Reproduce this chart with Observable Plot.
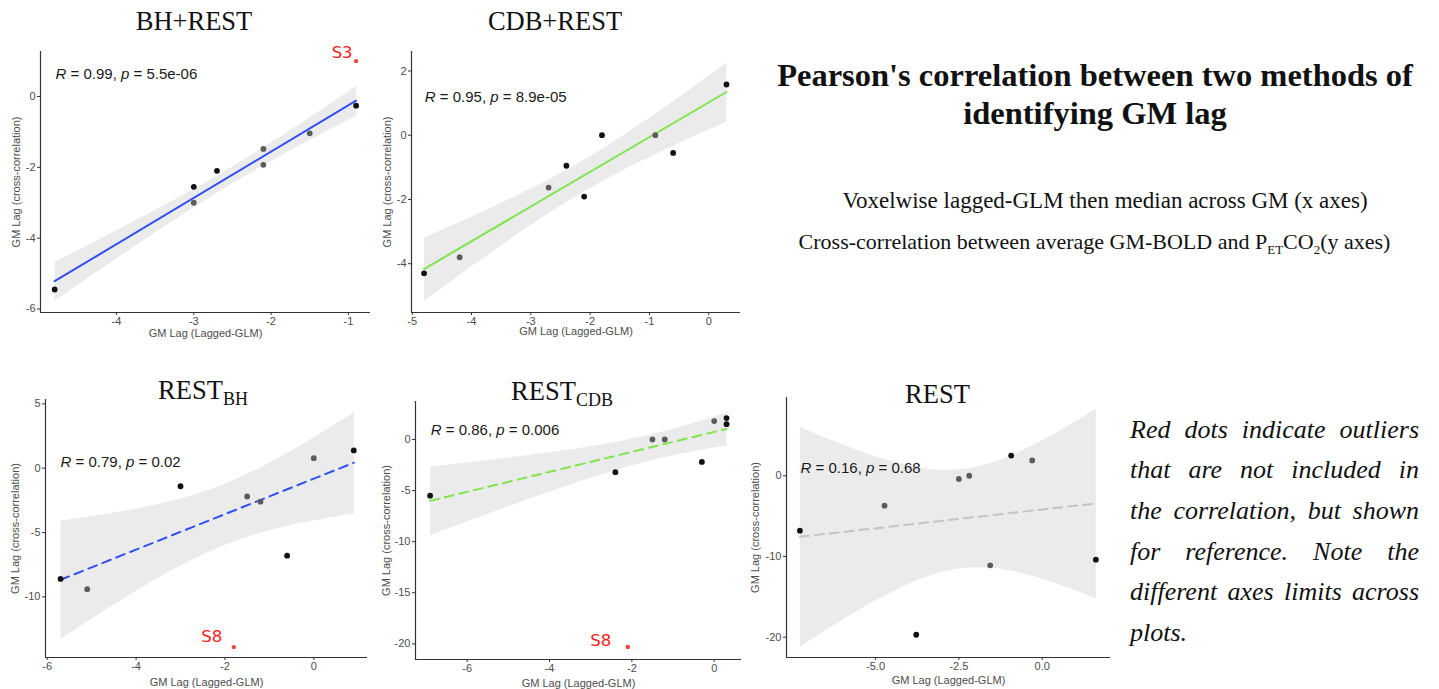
<!DOCTYPE html>
<html>
<head>
<meta charset="utf-8">
<script src="https://cdn.jsdelivr.net/npm/d3@7"></script>
<script src="https://cdn.jsdelivr.net/npm/@observablehq/plot@0.6"></script>
<style>
  html, body { margin: 0; padding: 0; background: #fff; }
  #page { position: relative; width: 1439px; height: 689px; overflow: hidden; background: #fff; }
  .panel { position: absolute; }
  #overlay { position: absolute; left: 0; top: 0; }
  #note {
    position: absolute; left: 1130px; top: 409.9px; width: 289px;
    font-family: "Liberation Serif", "Times New Roman", serif;
    font-style: italic; font-size: 26px; line-height: 40.6px; color: #111;
  }
  #note div { text-align: justify; text-align-last: justify; }
  #note div.last { text-align: left; text-align-last: left; }
</style>
</head>
<body>
<div id="page">
  <svg id="overlay" width="1439" height="689"></svg>
  <div id="note"></div>
</div>
<script>
// ---- Data: GM lag per subject, lagged-GLM (x) vs cross-correlation (y) ----
const panelTitles = ["BH+REST", "CDB+REST", "REST", "REST", "REST"];
const panelSubs   = ["", "", "BH", "CDB", ""];

const bhRestX    = [-4.8, -3.0, -3.0, -2.7, -2.1, -2.1, -1.5, -0.9];
const bhRestY    = [-5.45, -2.55, -3.0, -2.1, -1.48, -1.93, -1.04, -0.26];
const bhRestTone = ["dark", "dark", "light", "dark", "light", "light", "light", "dark"];

const cdbRestX    = [-4.8, -4.2, -2.7, -2.4, -2.1, -1.8, -0.9, -0.6, 0.3];
const cdbRestY    = [-4.3, -3.8, -1.63, -0.95, -1.91, 0.0, 0.0, -0.55, 1.58];
const cdbRestTone = ["dark", "light", "light", "dark", "dark", "dark", "light", "dark", "dark"];

const restBhX    = [-5.7, -5.1, -3.0, -1.5, -1.2, -0.6, 0.0, 0.9];
const restBhY    = [-8.6, -9.4, -1.4, -2.2, -2.6, -6.8, 0.78, 1.38];
const restBhTone = ["dark", "light", "dark", "light", "light", "dark", "light", "dark"];

const restCdbX    = [-6.9, -2.4, -1.5, -1.2, -0.3, 0.0, 0.3, 0.3];
const restCdbY    = [-5.5, -3.2, 0.0, 0.0, -2.2, 1.8, 2.1, 1.5];
const restCdbTone = ["dark", "dark", "light", "light", "dark", "light", "dark", "dark"];

const restX    = [-7.27, -4.73, -3.78, -2.5, -2.19, -1.56, -0.93, -0.3, 1.61];
const restY    = [-6.8, -3.7, -19.7, -0.4, 0.0, -11.1, 2.5, 1.9, -10.4];
const restTone = ["dark", "light", "dark", "light", "light", "light", "dark", "light", "dark"];

// excluded subjects (shown, not fitted)
const outlierNames = ["S3", null, "S8", "S8", null];
const outlierX     = [-0.9, null, -1.8, -2.1, null];
const outlierY     = [1.0, null, -13.9, -20.3, null];

// Pearson results
const rValues = ["0.99", "0.95", "0.79", "0.86", "0.16"];
const pValues = ["5.5e-06", "8.9e-05", "0.02", "0.006", "0.68"];

// axis ticks
const xTicks = [[-4, -3, -2, -1], [-5, -4, -3, -2, -1, 0], [-6, -4, -2, 0], [-6, -4, -2, 0], [-5, -2.5, 0]];
const yTicks = [[0, -2, -4, -6], [2, 0, -2, -4], [5, 0, -5, -10], [0, -5, -10, -15, -20], [0, -10, -20]];

const xAxisTitle = "GM Lag (Lagged-GLM)";
const yAxisTitle = "GM Lag (cross-correlation)";

const seriesX = [bhRestX, cdbRestX, restBhX, restCdbX, restX];
const seriesY = [bhRestY, cdbRestY, restBhY, restCdbY, restY];
const seriesTone = [bhRestTone, cdbRestTone, restBhTone, restCdbTone, restTone];

// ---- Layout and styling ----
const layout = [
  { left: 40,  top: 51,  right: 370,  bottom: 312, xDomain: [-4.983, -0.714], yDomain: [-6.10, 1.271],
    line: "#2f50f2", dash: null, lab: [15, 23], xt: 21, yt: -24, out: [-3.5, -8],
    title: { x: 194, y: 30 }, xFmt: null },
  { left: 411, top: 51,  right: 740,  bottom: 312, xDomain: [-5.012, 0.536], yDomain: [-5.52, 2.607],
    line: "#7ee64c", dash: null, lab: [13.3, 46], xt: 18.5, yt: -24.5, out: [0, 0],
    title: { x: 555, y: 30 }, xFmt: null },
  { left: 45,  top: 399, right: 367,  bottom: 657, xDomain: [-6.039, 1.209], yDomain: [-14.71, 5.34],
    line: "#2f50f2", dash: "9,6", lab: [15, 62.7], xt: 25, yt: -30, out: [-11.6, -10],
    title: { x: 203, y: 399 }, xFmt: null },
  { left: 415, top: 401, right: 741,  bottom: 659, xDomain: [-7.255, 0.663], yDomain: [-21.53, 3.718],
    line: "#7ee64c", dash: "9,6", lab: [15.3, 29], xt: 24, yt: -29, out: [-16.6, -6.7],
    title: { x: 562, y: 400 }, xFmt: null },
  { left: 786, top: 397, right: 1110, bottom: 657, xDomain: [-7.672, 2.049], yDomain: [-22.52, 9.70],
    line: "#c4c4c4", dash: "9,6", lab: [14, 70.3], xt: 23, yt: -30.7, out: [0, 0],
    title: { x: 937.5, y: 403 }, xFmt: d => d.toFixed(1) }
];

const M = { left: 45, top: 12, right: 6, bottom: 36 };
const page = document.getElementById("page");

function italicizeStats(svg) {
  svg.querySelectorAll("text").forEach(t => {
    const m = /^R = (.*), p = (.*)$/.exec(t.textContent);
    if (!m) return;
    t.textContent = "";
    const parts = [["R", true], [" = " + m[1] + ", ", false], ["p", true], [" = " + m[2], false]];
    for (const [s, it] of parts) {
      const ts = document.createElementNS("http://www.w3.org/2000/svg", "tspan");
      ts.textContent = s;
      if (it) ts.setAttribute("font-style", "italic");
      t.appendChild(ts);
    }
  });
}

layout.forEach((L, i) => {
  const rows = seriesX[i].map((x, j) => ({ x, y: seriesY[i][j], tone: seriesTone[i][j] }));
  const outliers = outlierNames[i] ? [{ x: outlierX[i], y: outlierY[i], name: outlierNames[i] }] : [];
  const width = (L.right - L.left) + M.left + M.right;
  const height = (L.bottom - L.top) + M.top + M.bottom;

  const regOpts = { x: "x", y: "y", stroke: L.line, strokeWidth: 2, fill: "#ebebeb", fillOpacity: 1 };
  if (L.dash) regOpts.strokeDasharray = L.dash;

  const svg = Plot.plot({
    width, height,
    marginLeft: M.left, marginTop: M.top, marginRight: M.right, marginBottom: M.bottom,
    style: { fontFamily: "'Liberation Sans', Arial, sans-serif", fontSize: "11px", background: "none", color: "#4d4d4d", overflow: "visible" },
    x: { domain: L.xDomain },
    y: { domain: L.yDomain },
    color: { domain: ["dark", "light"], range: ["#111111", "#5c5c5c"] },
    marks: [
      Plot.linearRegressionY(rows, regOpts),
      Plot.dot(rows, { x: "x", y: "y", fill: "tone", r: 2.9 }),
      Plot.dot(outliers, { x: "x", y: "y", fill: "#ef4432", r: 2.2 }),
      Plot.text(outliers, { x: "x", y: "y", text: "name", fill: "#ff1a1a", fontSize: 16.5,
        fontFamily: "'DejaVu Sans', sans-serif", textAnchor: "end", lineAnchor: "middle", dx: L.out[0], dy: L.out[1] }),
      Plot.ruleX([L.xDomain[0]], { stroke: "#333", strokeWidth: 1.2 }),
      Plot.ruleY([L.yDomain[0]], { stroke: "#333", strokeWidth: 1.2 }),
      Plot.axisX({ ticks: xTicks[i], tickSize: 3, tickPadding: 2, stroke: "#333", fill: "#4d4d4d",
        label: null, tickFormat: L.xFmt || (d => String(d)) }),
      Plot.axisY({ ticks: yTicks[i], tickSize: 3, tickPadding: 2, stroke: "#333", fill: "#4d4d4d",
        label: null, tickFormat: d => String(d) }),
      Plot.text([xAxisTitle], { frameAnchor: "bottom", dy: L.xt, lineAnchor: "middle", fill: "#4d4d4d", fontSize: 11 }),
      Plot.text([yAxisTitle], { frameAnchor: "left", dx: L.yt, rotate: -90, textAnchor: "middle", lineAnchor: "middle", fill: "#4d4d4d", fontSize: 11 }),
      Plot.text([`R = ${rValues[i]}, p = ${pValues[i]}`], { frameAnchor: "top-left", dx: L.lab[0], dy: L.lab[1],
        textAnchor: "start", lineAnchor: "middle", fill: "#1a1a1a", fontSize: 15 })
    ]
  });
  italicizeStats(svg);
  svg.classList.add("panel");
  svg.style.left = (L.left - M.left) + "px";
  svg.style.top = (L.top - M.top) + "px";
  svg.style.maxWidth = "none";
  page.appendChild(svg);
});

// ---- Titles and descriptive text ----
const ov = d3.select("#overlay").attr("font-family", "'Liberation Serif', 'Times New Roman', serif").attr("fill", "#111");

layout.forEach((L, i) => {
  const t = ov.append("text").attr("x", L.title.x).attr("y", L.title.y)
    .attr("text-anchor", "middle").attr("font-size", 26.5).text(panelTitles[i]);
  if (panelSubs[i]) t.append("tspan").attr("dy", 6).attr("font-size", 18).text(panelSubs[i]);
});

const headline = ["Pearson's correlation between two methods of", "identifying GM lag"];
headline.forEach((s, k) => {
  ov.append("text").attr("x", 1095).attr("y", 86 + k * 38).attr("text-anchor", "middle")
    .attr("font-size", 32.5).attr("font-weight", "bold").text(s);
});

ov.append("text").attr("x", 1105).attr("y", 207.5).attr("text-anchor", "middle").attr("font-size", 23)
  .text("Voxelwise lagged-GLM then median across GM (x axes)");

const sub2 = ov.append("text").attr("x", 1094.5).attr("y", 248.5).attr("text-anchor", "middle").attr("font-size", 22);
sub2.append("tspan").text("Cross-correlation between average GM-BOLD and P");
sub2.append("tspan").attr("dy", 5).attr("font-size", 13).text("ET");
sub2.append("tspan").attr("dy", -5).text("CO");
sub2.append("tspan").attr("dy", 5).attr("font-size", 13).text("2");
sub2.append("tspan").attr("dy", -5).text("(y axes)");

const noteLines = [
  "Red dots indicate outliers",
  "that are not included in",
  "the correlation, but shown",
  "for reference. Note the",
  "different axes limits across",
  "plots."
];
const note = d3.select("#note");
noteLines.forEach((s, k) => {
  note.append("div").attr("class", k === noteLines.length - 1 ? "last" : null).text(s);
});
</script>
</body>
</html>
